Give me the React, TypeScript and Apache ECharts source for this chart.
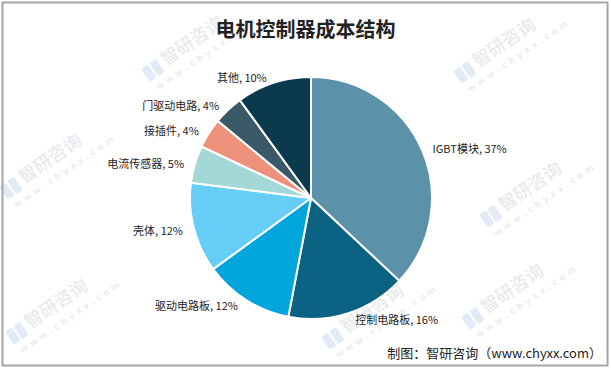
import React, { useEffect, useRef } from "react";
import * as echarts from "echarts";

const categories = ["IGBT模块", "控制电路板", "驱动电路板", "壳体", "电流传感器", "接插件", "门驱动电路", "其他"];
const values = [37, 16, 12, 12, 5, 4, 4, 10];
const colors = ["#5b92a9", "#0b6283", "#02a6dc", "#66cdf6", "#a3d8d6", "#ee917a", "#3a5866", "#0b3a4f"];
const titleText = "电机控制器成本结构";
const sourceText = "制图：智研咨询（www.chyxx.com）";
const watermarkName = "智研咨询";
const watermarkUrl = "w w w . c h y x x . c o m";

// logo lower-left anchor points of the faint watermarks
const watermarkPos = [
  [150, 82], [462, 84], [8, 200], [232, 212], [488, 228], [14, 345], [330, 350], [470, 330],
];

export default function App() {
  const ref = useRef<HTMLDivElement>(null);
  useEffect(() => {
    document.body.style.margin = "0";
    const chart = echarts.init(ref.current!, null, { renderer: "svg" });
    const font = "'Microsoft YaHei', 'Noto Sans CJK SC', sans-serif";
    const wmColor = "rgba(175,188,202,0.28)";
    const logoColor = "rgba(120,165,215,0.22)";
    const watermarks = watermarkPos.map(([x, y]) => ({
      type: "group",
      x,
      y,
      rotation: 0.6,
      silent: true,
      z: 20,
      children: [
        { type: "rect", shape: { x: 0, y: -16, width: 8, height: 16, r: 2 }, style: { fill: logoColor } },
        { type: "rect", shape: { x: 10, y: -16, width: 8, height: 16, r: 2 }, style: { fill: logoColor } },
        {
          type: "text",
          x: 22,
          y: -21,
          style: { text: watermarkName, fill: wmColor, font: `bold 18px 'Noto Sans CJK SC', sans-serif` },
        },
        {
          type: "text",
          x: 2,
          y: 4,
          style: { text: watermarkUrl, fill: wmColor, font: `bold 9px 'DejaVu Sans', sans-serif` },
        },
      ],
    }));
    chart.setOption({
      animation: false,
      backgroundColor: "#ffffff",
      title: {
        text: titleText,
        left: "center",
        top: 13,
        textStyle: { fontSize: 20, fontWeight: "bold", color: "#222", fontFamily: font },
      },
      graphic: [
        ...watermarks,
        {
          type: "rect",
          shape: { x: 2.5, y: 2.5, width: 605, height: 363 },
          style: { fill: "none", stroke: "#a6a6a6", lineWidth: 2 },
          silent: true,
        },
        {
          type: "text",
          right: 9,
          bottom: 10,
          z: 30,
          style: { text: sourceText, fill: "#222", font: `13px ${font}` },
        },
      ],
      series: [
        {
          type: "pie",
          center: [311, 198],
          radius: [0, 121],
          startAngle: 90,
          clockwise: true,
          avoidLabelOverlap: false,
          itemStyle: { borderColor: "#fff", borderWidth: 2 },
          label: {
            show: true,
            position: "outside",
            formatter: "{b}, {c}%",
            fontSize: 11,
            color: "#222",
            fontFamily: font,
          },
          labelLine: { show: false, length: 6, length2: 0 },
          data: categories.map((name, i) => ({ name, value: values[i], itemStyle: { color: colors[i] } })),
        },
      ],
    });
    return () => chart.dispose();
  }, []);
  return <div ref={ref} style={{ width: 611, height: 369, position: "absolute", left: 0, top: 0 }} />;
}
